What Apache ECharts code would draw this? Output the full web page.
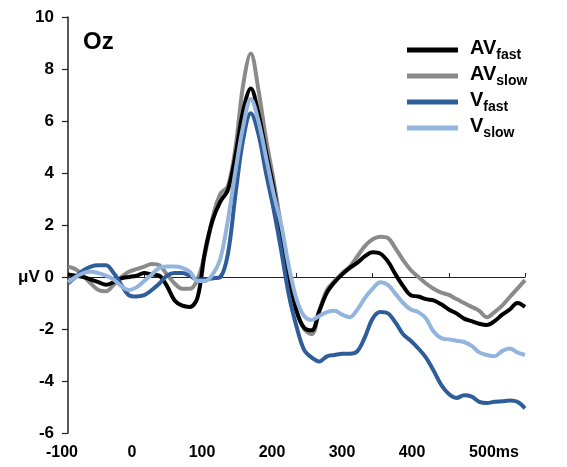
<!DOCTYPE html>
<html>
<head>
<meta charset="utf-8">
<script src="https://cdn.jsdelivr.net/npm/echarts@6/dist/echarts.min.js"></script>
<style>
  html, body { margin: 0; padding: 0; background: #fff; }
  #chart { width: 567px; height: 467px; }
</style>
</head>
<body>
<div id="chart"></div>
<script>
// time axis, ms (10 ms steps)
const times = []
for (let t = -100; t <= 500; t += 10) times.push(t)

const avFast = [
  0.1, 0.05, 0, -0.1, -0.2, -0.3, -0.2, -0.05, 0, 0.05,
  0.15, 0.1, 0.05, -0.35, -0.9, -1.1, -1.15, -0.8, 1.0, 2.2,
  2.9, 3.35, 4.7, 6.4, 7.25, 6.3, 4.8, 3.4, 1.7, 0,
  -1.3, -1.95, -2.05, -1.3, -0.6, -0.2, 0.1, 0.35, 0.55, 0.8,
  0.95, 0.9, 0.6, 0.1, -0.35, -0.7, -0.75, -0.85, -0.9, -1.05,
  -1.25, -1.4, -1.6, -1.7, -1.8, -1.85, -1.7, -1.45, -1.25, -1.0,
  -1.15
]
const avSlow = [
  0.4, 0.3, 0.05, -0.25, -0.5, -0.55, -0.3, 0, 0.2, 0.3,
  0.4, 0.5, 0.45, 0.1, -0.25, -0.45, -0.45, -0.1, 0.9, 2.3,
  3.2, 3.5, 5.0, 7.4, 8.6, 7.2, 5.3, 3.7, 1.9, 0.1,
  -1.3, -2.0, -2.2, -1.3, -0.5, -0.15, 0.15, 0.4, 0.8, 1.2,
  1.45, 1.55, 1.5, 1.1, 0.65, 0.27, 0, -0.25, -0.45, -0.6,
  -0.69, -0.85, -1.0, -1.15, -1.3, -1.55, -1.35, -1.1, -0.77, -0.45,
  -0.12
]
const vFast = [
  -0.25, 0, 0.25, 0.4, 0.45, 0.45, 0.15, -0.3, -0.7, -0.75,
  -0.7, -0.5, -0.25, 0.05, 0.15, 0.15, 0.05, -0.1, -0.1, -0.05,
  0, 0.9, 3.2, 5.3, 6.3, 5.5, 4.0, 2.6, 1.0, -0.7,
  -1.9, -2.8, -3.1, -3.25, -3.05, -3.0, -2.95, -2.95, -2.85, -2.3,
  -1.6, -1.35, -1.4, -1.75, -2.2, -2.45, -2.75, -3.1, -3.6, -4.15,
  -4.5, -4.65, -4.55, -4.6, -4.8, -4.85, -4.8, -4.78, -4.75, -4.8,
  -5.05
]
const vSlow = [
  -0.2, 0, 0.15, 0.2, 0.15, 0.05, -0.1, -0.35, -0.5, -0.4,
  -0.15, 0.1, 0.35, 0.4, 0.4, 0.35, 0.2, -0.15, -0.15, 0.1,
  0.7, 2.2, 4.1, 5.8, 6.85, 6.0, 4.6, 3.2, 2.0, 0.4,
  -0.85, -1.5, -1.65, -1.5, -1.35, -1.3, -1.45, -1.55, -1.25, -0.8,
  -0.45, -0.2, -0.3, -0.65, -1.0, -1.25, -1.35, -1.6, -2.1, -2.35,
  -2.4, -2.45, -2.5, -2.65, -2.9, -3.0, -3.05, -2.85, -2.75, -2.9,
  -3.0
]

const seriesNames = ['AVfast', 'AVslow', 'Vfast', 'Vslow']
const seriesColors = ['#000000', '#8a8a8a', '#2f5d9a', '#93b4dc']
const seriesData = [avFast, avSlow, vFast, vSlow]
const seriesZ = [3, 2, 4, 5]
const legendLabels = {
  AVfast: ['AV', 'fast'],
  AVslow: ['AV', 'slow'],
  Vfast: ['V', 'fast'],
  Vslow: ['V', 'slow'],
}

const font = 'Liberation Sans, Arial, sans-serif'

const chart = echarts.init(document.getElementById('chart'))
chart.setOption({
  animation: false,
  backgroundColor: '#fff',
  title: {
    text: 'Oz',
    left: 78,
    top: 25,
    textStyle: { fontFamily: font, fontSize: 24, fontWeight: 'bold', color: '#000' },
  },
  legend: {
    orient: 'vertical',
    left: 402,
    top: 33,
    itemWidth: 51,
    itemHeight: 5,
    itemGap: 2,
    icon: 'rect',
    data: seriesNames,
    formatter: (name) => `{b|${legendLabels[name][0]}}{s|${legendLabels[name][1]}}`,
    textStyle: {
      fontFamily: font,
      rich: {
        b: { fontFamily: font, fontSize: 20, fontWeight: 'bold', color: '#000', lineHeight: 24, verticalAlign: 'top', padding: [0, 0, 0, 7] },
        s: { fontFamily: font, fontSize: 14, fontWeight: 'bold', color: '#000', lineHeight: 24, verticalAlign: 'bottom' },
      },
    },
  },
  grid: [
    { left: 68, right: 42, top: 17, bottom: 34 },
    { left: 62, width: 420, top: 440, height: 1 },
  ],
  xAxis: [
    {
      type: 'value',
      gridIndex: 0,
      min: -100,
      max: 500,
      interval: 100,
      axisLine: { onZero: true, lineStyle: { color: '#222', width: 1.2 } },
      axisTick: { inside: true, length: 4, lineStyle: { color: '#222' } },
      axisLabel: { show: false },
      splitLine: { show: false },
    },
    {
      type: 'value',
      gridIndex: 1,
      min: -100,
      max: 500,
      interval: 100,
      axisLine: { show: false },
      axisTick: { show: false },
      splitLine: { show: false },
      axisLabel: {
        margin: 4,
        fontFamily: font,
        fontSize: 16,
        fontWeight: 'bold',
        color: '#000',
        formatter: (v) => (v === 500 ? '{p|500ms}' : String(v)),
        rich: {
          p: { fontFamily: font, fontSize: 16, fontWeight: 'bold', color: '#000', padding: [0, 0, 0, 24] },
        },
      },
    },
  ],
  yAxis: [
    {
      type: 'value',
      gridIndex: 0,
      min: -6,
      max: 10,
      interval: 2,
      axisLine: { show: true, onZero: false, lineStyle: { color: '#222', width: 1.5 } },
      axisTick: { show: true, length: 6, lineStyle: { color: '#222', width: 1.2 } },
      splitLine: { show: false },
      axisLabel: {
        margin: 14,
        fontFamily: font,
        fontSize: 17,
        fontWeight: 'bold',
        color: '#000',
        formatter: (v) => (v === 0 ? 'μV 0' : String(v)),
      },
    },
    { type: 'value', gridIndex: 1, show: false },
  ],
  series: seriesNames.map((name, i) => ({
    name,
    type: 'line',
    xAxisIndex: 0,
    yAxisIndex: 0,
    z: seriesZ[i],
    smooth: 0.35,
    symbol: 'none',
    color: seriesColors[i],
    lineStyle: { width: 4, color: seriesColors[i] },
    data: times.map((t, k) => [t, seriesData[i][k]]),
  })),
})
</script>
</body>
</html>
